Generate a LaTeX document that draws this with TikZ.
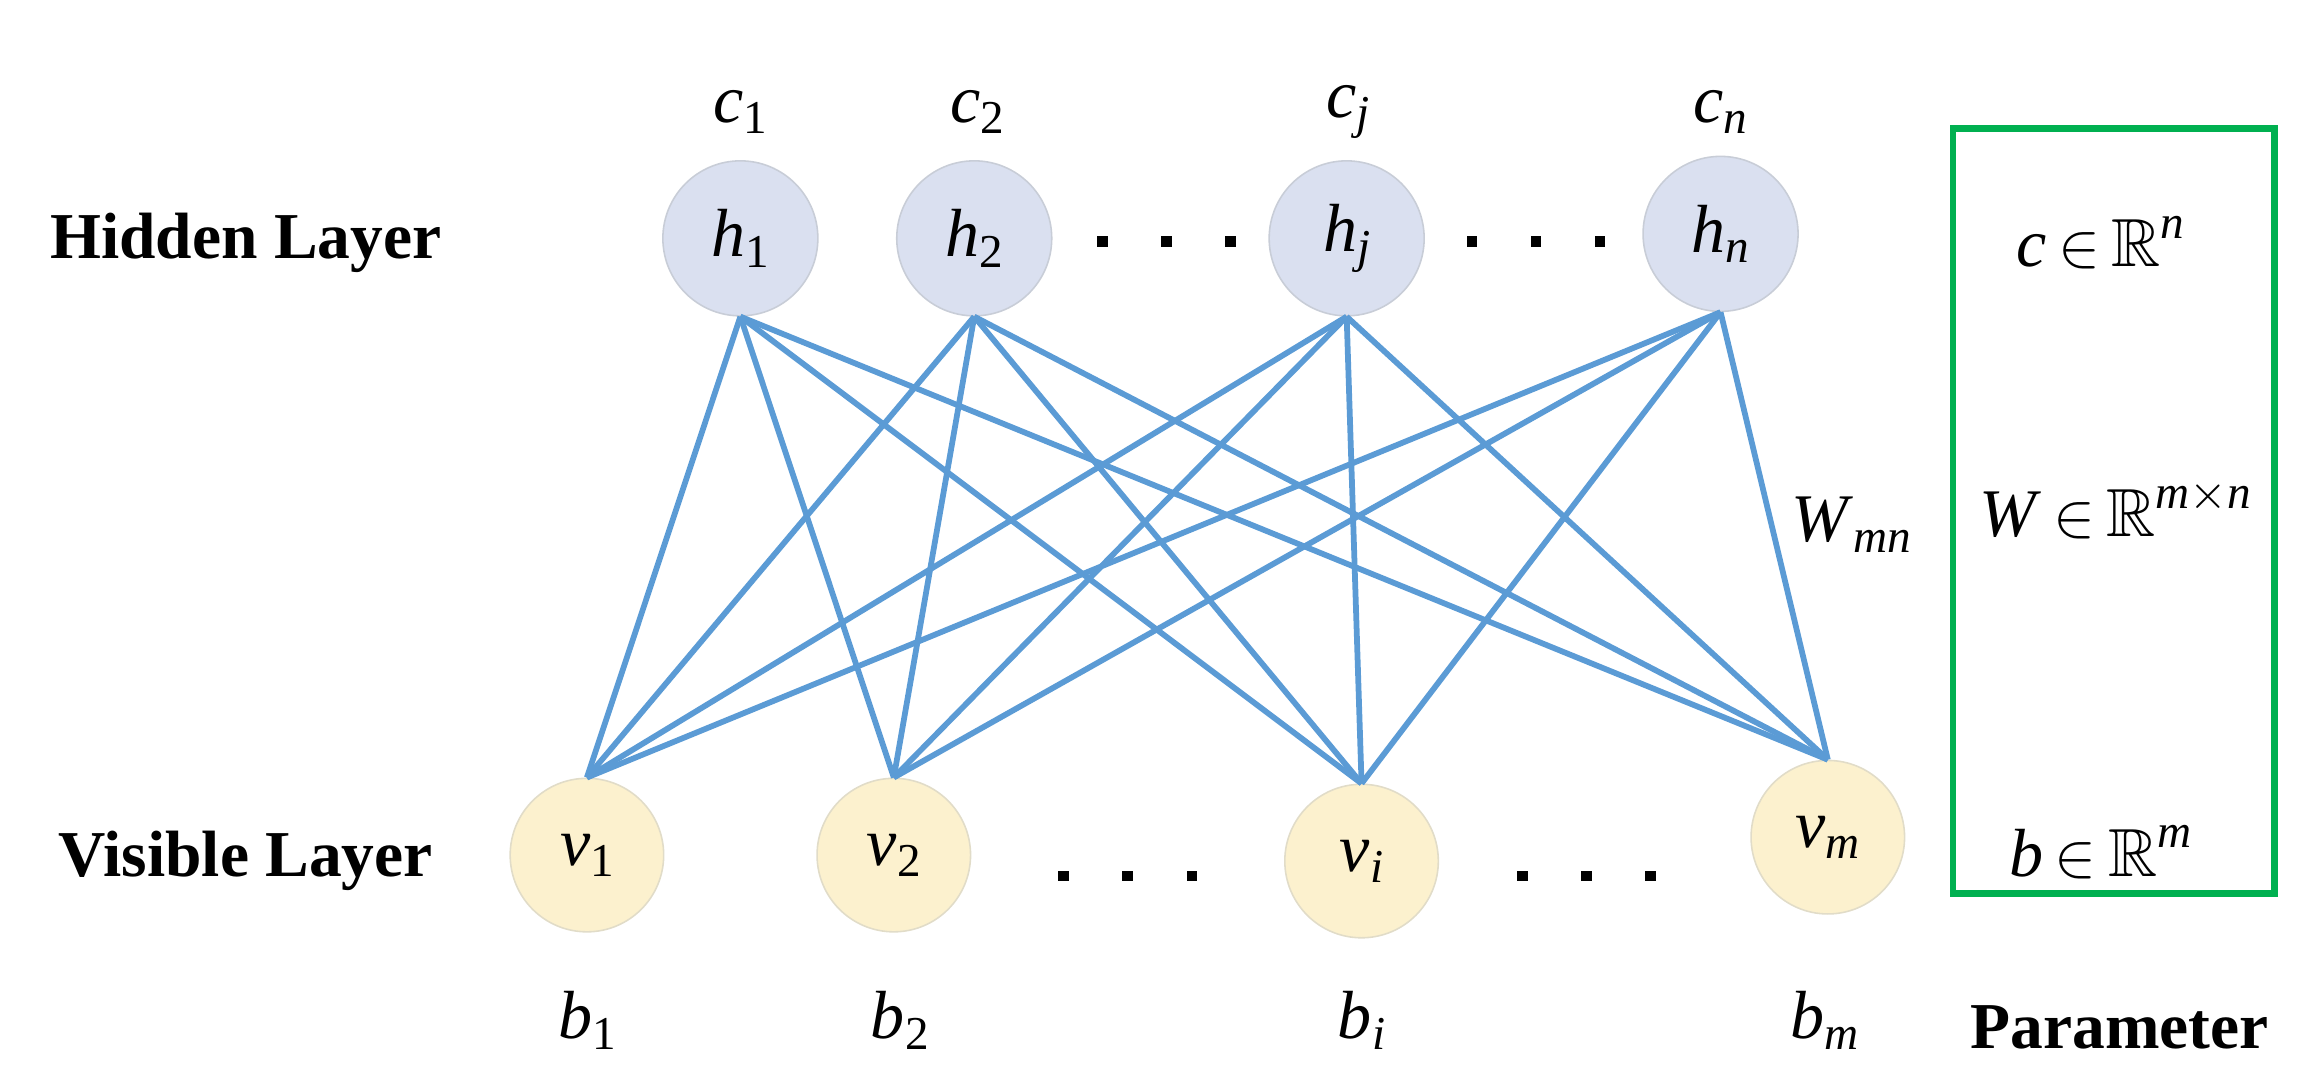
\documentclass[tikz,border=0pt]{standalone}
\usepackage{amssymb}
\usepackage{fontspec}
\setmainfont{Liberation Serif}
\newcommand{\lb}[2]{\textit{#1}\raisebox{-0.35ex}{\fontsize{9}{9}\selectfont #2}}
\newcommand{\pr}[2]{\textit{#1}\,$\in$\,$\mathbb{R}$\raisebox{0.9ex}{\fontsize{9}{9}\selectfont\itshape #2}}
\begin{document}
\begin{tikzpicture}[x=0.01cm,y=-0.01cm,
  hid/.style={circle,minimum size=1.04cm,inner sep=0pt,fill={rgb,255:red,218;green,224;blue,240},draw={rgb,255:red,200;green,205;blue,215},line width=0.3pt},
  vis/.style={circle,minimum size=1.03cm,inner sep=0pt,fill={rgb,255:red,252;green,241;blue,206},draw={rgb,255:red,225;green,220;blue,200},line width=0.3pt},
  edge/.style={draw={rgb,255:red,91;green,155;blue,213},line width=1.1pt},
  lab/.style={font=\fontsize{13}{13}\selectfont},
  bold/.style={font=\fontsize{12.5}{12.5}\selectfont\bfseries},
  dot/.style={fill=black,minimum size=0.07cm,inner sep=0pt}]
\useasboundingbox (0,0) rectangle (1550,718);
\node[hid] (h1) at (497,160) {};
\node[hid] (h2) at (654,160) {};
\node[hid] (hj) at (904,160) {};
\node[hid] (hn) at (1155,157) {};
\node[vis] (v1) at (394,574) {};
\node[vis] (v2) at (600,574) {};
\node[vis] (vi) at (914,578) {};
\node[vis] (vm) at (1227,562) {};
\foreach \h in {h1,h2,hj,hn}
  \foreach \v in {v1,v2,vi,vm}
    \draw[edge] (\h.south) -- (\v.north);
\node[lab] at (h1) {\lb{h}{1}};
\node[lab] at (h2) {\lb{h}{2}};
\node[lab] at (hj) {\lb{h}{\textit{j}}};
\node[lab] at (hn) {\lb{h}{\textit{n}}};
\node[lab] at (v1) {\lb{v}{1}};
\node[lab] at (v2) {\lb{v}{2}};
\node[lab] at (vi) {\lb{v}{\textit{i}}};
\node[lab] at (vm) {\lb{v}{\textit{m}}};
\node[lab] (c1) at (497,75) {\lb{c}{1}};
\node[lab] (c2) at (656,75) {\lb{c}{2}};
\node[lab] (cj) at (905,75) {\lb{c}{\textit{j}}};
\node[lab] (cn) at (1155,75) {\lb{c}{\textit{n}}};
\node[lab] (b1) at (394,685) {\lb{b}{1}};
\node[lab] (b2) at (604,685) {\lb{b}{2}};
\node[lab] (bi) at (914,685) {\lb{b}{\textit{i}}};
\node[lab] (bm) at (1225,685) {\lb{b}{\textit{m}}};
\foreach \x in {740,783,826,988,1031,1074}
  \node[dot] at (\x,162) {};
\foreach \x in {714,757,800,1022,1065,1108}
  \node[dot] at (\x,588) {};
\node[bold] (hl) at (165,163) {Hidden Layer};
\node[bold] (vl) at (165,578) {Visible Layer};
\node[bold] (pa) at (1423,690) {Parameter};
\node[lab] (w) at (1243,352) {\lb{W}{\textit{mn}}};
\draw[draw={rgb,255:red,0;green,176;blue,80},line width=1.3pt] (1311,86) rectangle (1527,600);
\node[lab] (pc) at (1410,163) {\pr{c}{n}};
\node[lab] (pw) at (1420,342) {\pr{W}{m}\raisebox{0.9ex}{\fontsize{9}{9}\selectfont$\times$\itshape n}};
\node[lab] (pb) at (1410,572) {\pr{b}{m}};
\end{tikzpicture}
\end{document}
